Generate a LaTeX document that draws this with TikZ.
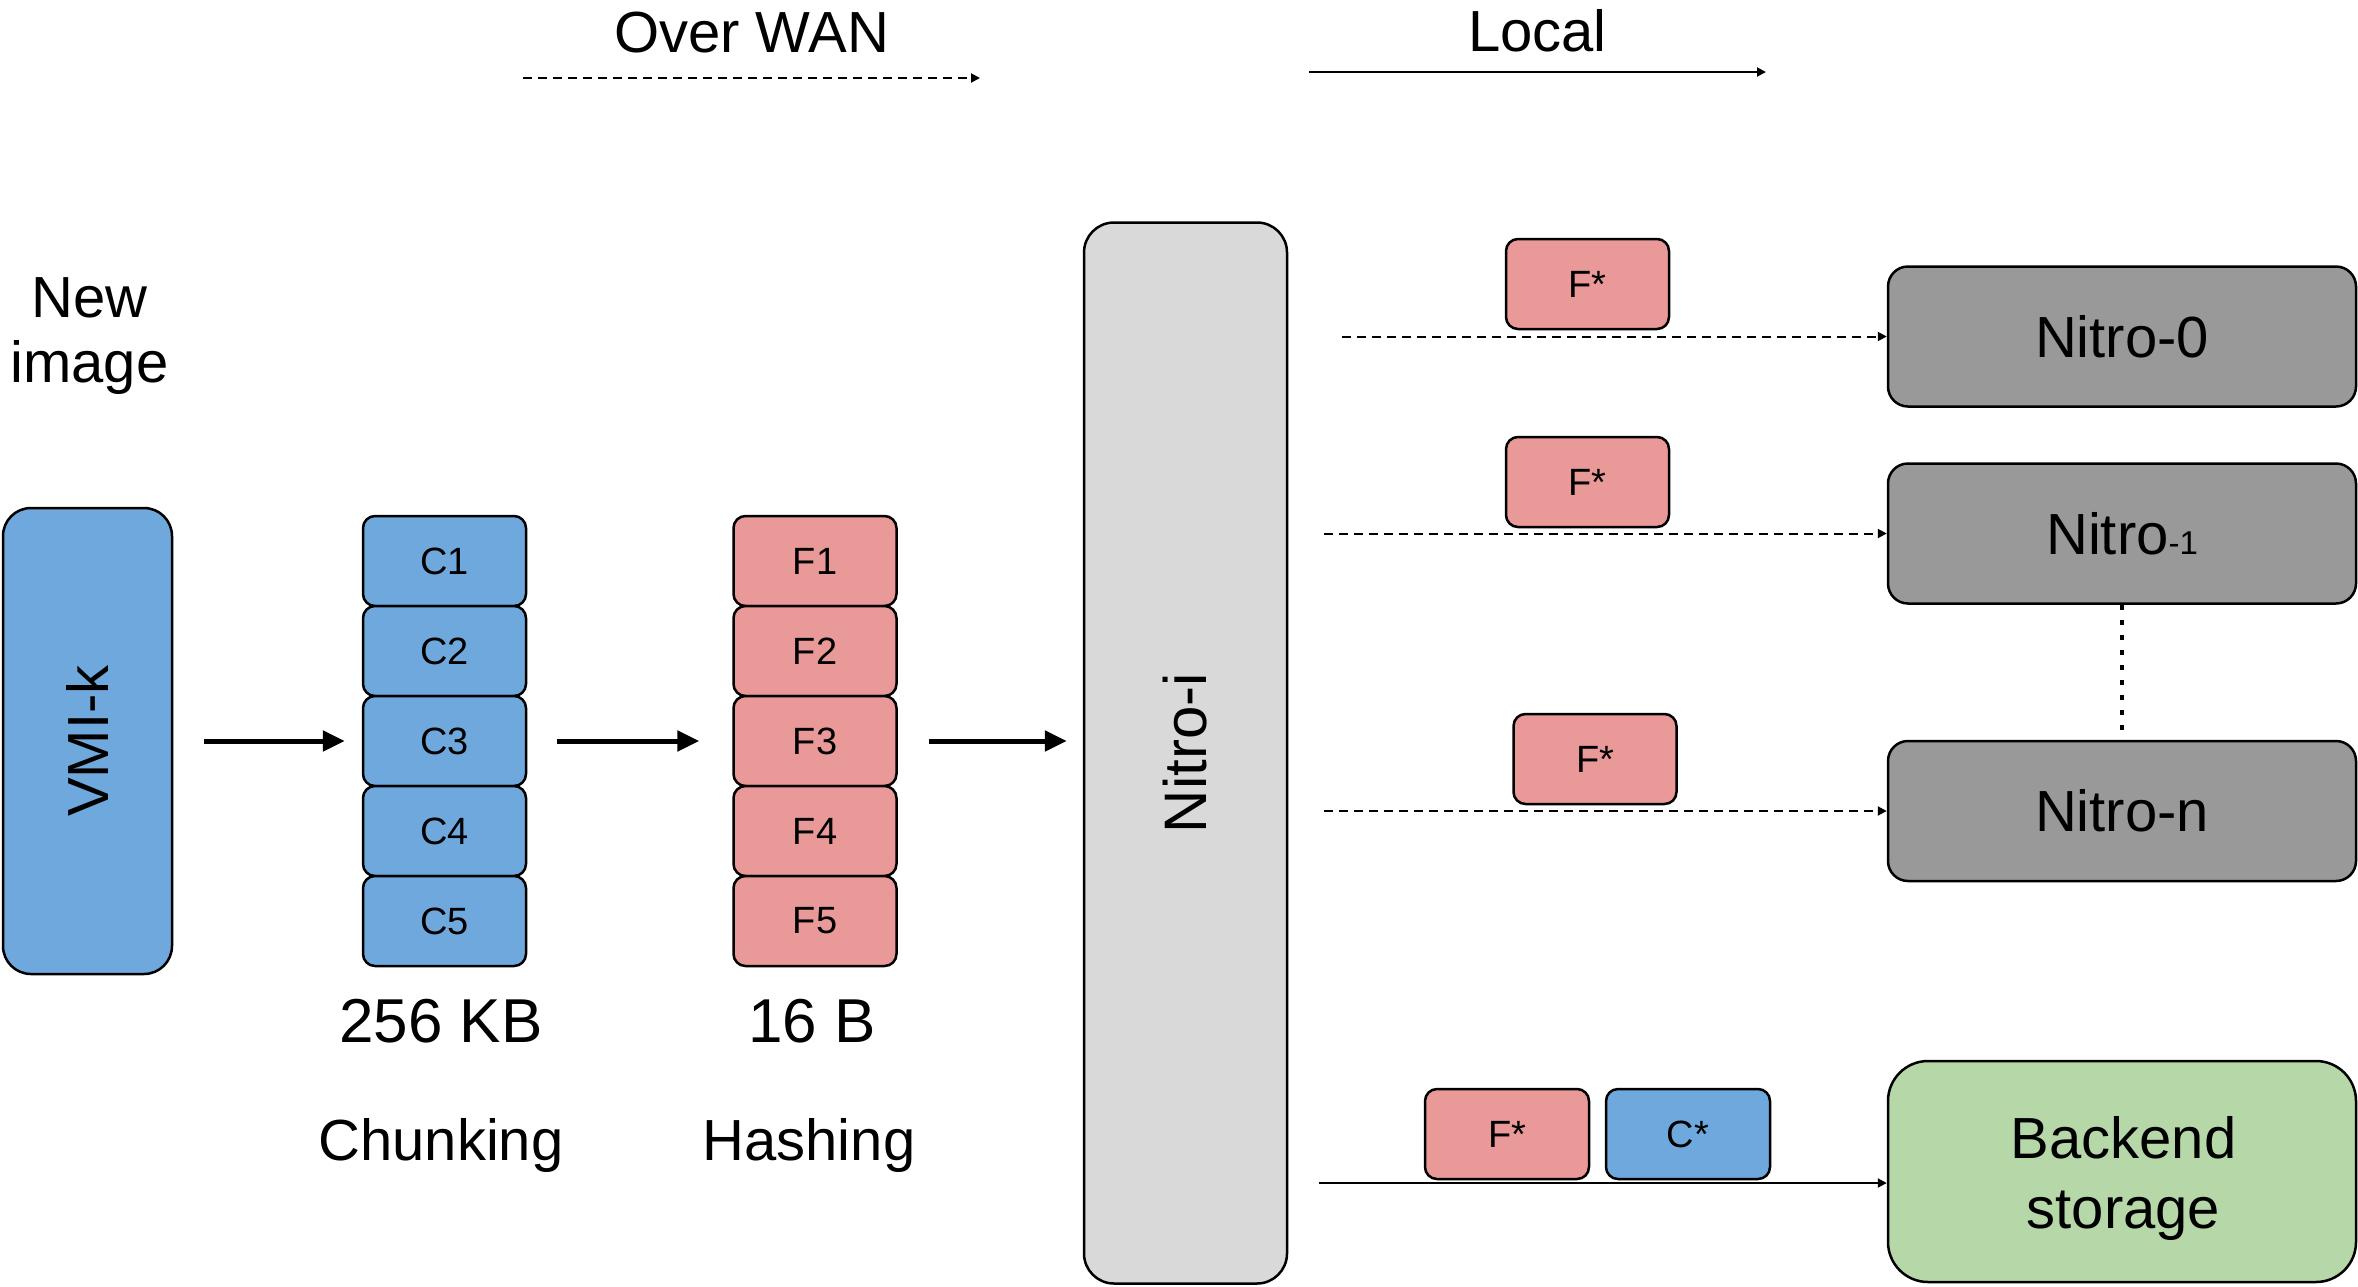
\documentclass[tikz,border=0pt]{standalone}
\usepackage{fontspec}
\setmainfont{Liberation Sans}
\usetikzlibrary{arrows.meta}
\definecolor{chunkblue}{HTML}{6FA8DC}
\definecolor{hashred}{HTML}{EA9999}
\definecolor{nodegray}{HTML}{999999}
\definecolor{hubgray}{HTML}{D9D9D9}
\definecolor{storegreen}{HTML}{B6D7A8}
\newcommand{\fsz}[1]{\fontsize{#1}{#1}\selectfont}

\begin{document}
\begin{tikzpicture}[x=1pt,y=-1pt,
  box/.style={draw=black, line width=2.5pt, inner sep=0pt},
  cell/.style={box, rounded corners=12pt, minimum width=163pt, minimum height=90pt, font=\fsz{38}},
  ccell/.style={cell, fill=chunkblue},
  fcell/.style={cell, fill=hashred},
  peer/.style={box, rounded corners=20pt, fill=nodegray, minimum width=468pt, minimum height=140pt, font=\fsz{58}},
  lbl/.style={inner sep=0pt, anchor=base, font=\fsz{58}},
  sizelbl/.style={inner sep=0pt, anchor=base, font=\fsz{62}},
  bigarrow/.style={line width=5pt, -{Triangle[length=22pt,width=20pt]}},
  dasharrow/.style={line width=2pt, dash pattern=on 9pt off 6pt, -{Triangle[length=9pt,width=9pt]}},
  thinarrow/.style={line width=2pt, -{Triangle[length=9pt,width=9pt]}},
  dotline/.style={line width=4pt, dash pattern=on 5pt off 10pt},
]
\useasboundingbox (0,0) rectangle (2358,1286);

% legend at the top
\node[lbl] (wanlbl) at (751.5,52) {Over WAN};
\coordinate (wanS) at (523,78);
\coordinate (wanE) at (980,78);
\draw[dasharrow] (wanS) -- (wanE);
\node[lbl] (loclbl) at (1537.5,51) {Local};
\coordinate (locS) at (1309,72);
\coordinate (locE) at (1766,72);
\draw[thinarrow] (locS) -- (locE);

% new image
\node[lbl] (newlbl) at (89.5,317) {New};
\node[lbl] (imglbl) at (89.5,382) {image};
\node[box, rounded corners=28pt, fill=chunkblue, minimum width=169pt, minimum height=466pt, font=\fsz{58}]
  (vmi) at (87.5,741) {\rotatebox{90}{VMI-k}};

% chunks and fingerprints
\foreach \i/\y in {1/561,2/651,3/741,4/831,5/921}{
  \node[ccell] (c\i) at (444.5,\y) {C\i};
  \node[fcell] (f\i) at (815,\y) {F\i};
}
\node[sizelbl] (kblbl) at (441,1042) {256 KB};
\node[sizelbl] (blbl) at (812,1042) {16 B};
\node[lbl] (chunklbl) at (441,1160) {Chunking};
\node[lbl] (hashlbl) at (809,1160) {Hashing};

% receiving node
\node[box, rounded corners=30pt, fill=hubgray, minimum width=203pt, minimum height=1061pt, font=\fsz{60}]
  (nitroi) at (1185.5,753) {\rotatebox{90}{Nitro-i}};

\draw[bigarrow] ([xshift=31pt]vmi.east) -- ([xshift=-17pt]c3.west);
\draw[bigarrow] ([xshift=30pt]c3.east) -- ([xshift=-33pt]f3.west);
\draw[bigarrow] ([xshift=31pt]f3.east) -- ([xshift=-16pt]f3.east -| nitroi.west);

% peers
\node[peer] (nitro0) at (2122,336.5) {Nitro-0};
\node[peer] (nitro1) at (2122,533.5) {Nitro{\fsz{33}-1}};
\node[peer] (nitron) at (2122,811) {Nitro-n};
\draw[dotline] (nitro1.south) -- (nitron.north);

\node[fcell] (fs0) at (1587.5,284) {F*};
\node[fcell] (fs1) at (1587.5,482) {F*};
\node[fcell] (fsn) at (1595,759) {F*};

\coordinate (d0) at (1342,336.5);
\coordinate (d1) at (1324,533.5);
\coordinate (dn) at (1324,811);
\draw[dasharrow] (d0) -- (d0 -| nitro0.west);
\draw[dasharrow] (d1) -- (d1 -| nitro1.west);
\draw[dasharrow] (dn) -- (dn -| nitron.west);

% backend storage
\node[box, rounded corners=40pt, fill=storegreen, minimum width=468pt, minimum height=221pt] (backend) at (2122,1171.5) {};
\node[lbl] (backlbl1) at (2123.5,1158) {Backend};
\node[lbl] (backlbl2) at (2123.5,1228) {storage};
\node[fcell, minimum width=164pt] (fsb) at (1507,1134) {F*};
\node[ccell, minimum width=164pt] (csb) at (1688,1134) {C*};
\coordinate (bs) at (1319,1183);
\draw[thinarrow] (bs) -- (bs -| backend.west);
\end{tikzpicture}
\end{document}
